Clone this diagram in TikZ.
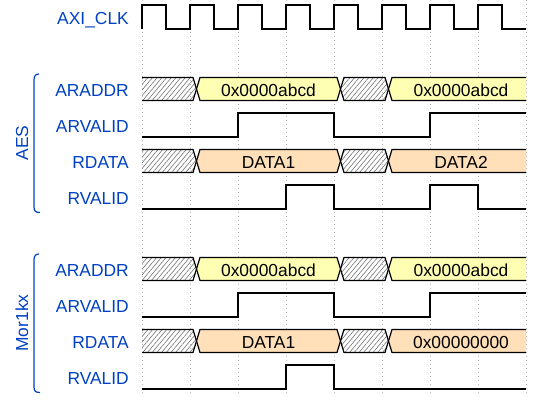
\documentclass[tikz,border=0pt]{standalone}
\usepackage{fontspec}
\setmainfont{Liberation Sans}
\usetikzlibrary{patterns.meta}
\definecolor{lblblue}{HTML}{0041C4}
\definecolor{busyel}{HTML}{FFFFB4}
\definecolor{busorg}{HTML}{FFE0B9}
\tikzset{
  sig/.style={line width=1.2pt, line join=miter, black},
  gridln/.style={gray!55, line width=0.5pt, dash pattern=on 0.8pt off 3.2pt},
  lbl/.style={text=lblblue, font=\fontsize{17.4}{20}\selectfont, anchor=base east, inner sep=0pt},
  dat/.style={text=black, font=\fontsize{17.4}{20}\selectfont, anchor=base, inner sep=0pt},
  hatch/.style={pattern={Lines[angle=50,distance=3.6pt,line width=0.6pt]}, pattern color=black!55},
  grp/.style={text=lblblue, font=\fontsize{17.4}{20}\selectfont, rotate=90, anchor=base, inner sep=0pt},
  bracket/.style={lblblue, line width=1.2pt}
}
% #1 y-centre, #2 fill colour, #3 first text, #4 second text, #5 name prefix
\newcommand\busrow[5]{%
  \path[hatch] (142,#1-11.5) -- (193,#1-11.5) -- (196.5,#1) -- (193,#1+11.5) -- (142,#1+11.5) -- cycle;
  \draw[sig] (142,#1-11.5) -- (193,#1-11.5) -- (196.5,#1) -- (193,#1+11.5) -- (142,#1+11.5);
  \draw[sig, fill=#2] (196.5,#1) -- (200,#1-11.5) -- (337,#1-11.5) -- (340.5,#1) -- (337,#1+11.5) -- (200,#1+11.5) -- cycle;
  \draw[sig, hatch] (340.5,#1) -- (344,#1-11.5) -- (385,#1-11.5) -- (388.5,#1) -- (385,#1+11.5) -- (344,#1+11.5) -- cycle;
  \fill[#2] (388.5,#1) -- (392,#1-11.5) -- (526,#1-11.5) -- (526,#1+11.5) -- (392,#1+11.5) -- cycle;
  \draw[sig] (526,#1-11.5) -- (392,#1-11.5) -- (388.5,#1) -- (392,#1+11.5) -- (526,#1+11.5);
  \node[dat] (#5a) at (268.5,#1+7) {#3};
  \node[dat] (#5b) at (461,#1+7) {#4};
}
\begin{document}
\begin{tikzpicture}[x=1pt,y=-1pt]
\useasboundingbox (0,0) rectangle (542,405);
% grid
\foreach \k in {0,...,8} {
  \draw[gridln] (142+48*\k,0) -- (142+48*\k,396);
}
% clock
\draw[sig] (142,29)
  \foreach \k in {0,...,7} { -- (142+48*\k,5) -- (166+48*\k,5) -- (166+48*\k,29) -- (190+48*\k,29) };
\node[lbl] (clk) at (129,24) {AXI\_CLK};

% AES group
\node[lbl] (aesaraddr) at (129,96) {ARADDR};
\node[lbl] (aesarvalid) at (129,132) {ARVALID};
\node[lbl] (aesrdata) at (129,168) {RDATA};
\node[lbl] (aesrvalid) at (129,204) {RVALID};
\busrow{89}{busyel}{0x0000abcd}{0x0000abcd}{aesaddr}
\draw[sig] (142,137) -- (238,137) -- (238,113) -- (334,113) -- (334,137) -- (430,137) -- (430,113) -- (526,113);
\busrow{161}{busorg}{DATA1}{DATA2}{aesdata}
\draw[sig] (142,209) -- (286,209) -- (286,185) -- (334,185) -- (334,209) -- (430,209) -- (430,185) -- (478,185) -- (478,209) -- (526,209);
\draw[bracket] (39,74) .. controls (35.5,74) and (34,76) .. (34,80) -- (34,207) .. controls (34,211) and (35.5,212.5) .. (40,212.5);
\node[grp] (aes) at (28,143) {AES};

% Mor1kx group
\node[lbl] (moraraddr) at (129,276) {ARADDR};
\node[lbl] (morarvalid) at (129,312) {ARVALID};
\node[lbl] (morrdata) at (129,348) {RDATA};
\node[lbl] (morrvalid) at (129,384) {RVALID};
\busrow{269}{busyel}{0x0000abcd}{0x0000abcd}{moraddr}
\draw[sig] (142,317) -- (238,317) -- (238,293) -- (334,293) -- (334,317) -- (430,317) -- (430,293) -- (526,293);
\busrow{341}{busorg}{DATA1}{0x00000000}{mordata}
\draw[sig] (142,389) -- (286,389) -- (286,365) -- (334,365) -- (334,389) -- (526,389);
\draw[bracket] (39,254) .. controls (35.5,254) and (34,256) .. (34,260) -- (34,387) .. controls (34,391) and (35.5,392.5) .. (40,392.5);
\node[grp] (mor) at (28,323) {Mor1kx};
\end{tikzpicture}
\end{document}
